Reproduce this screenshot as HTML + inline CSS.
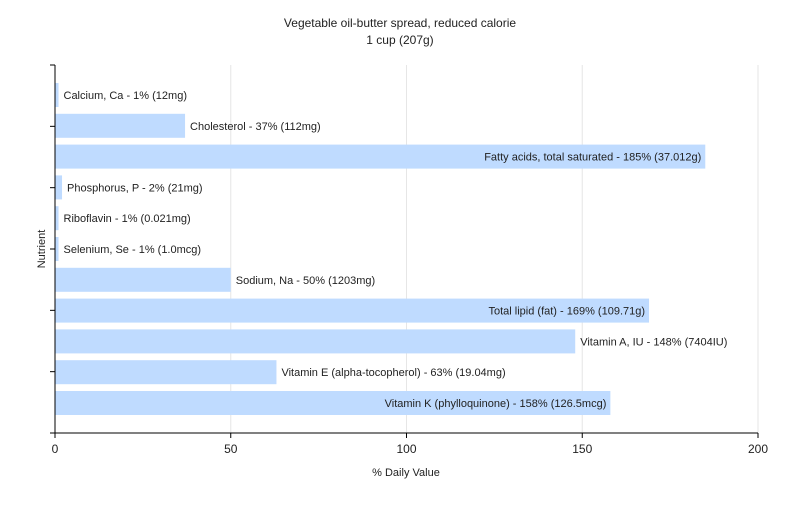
<!DOCTYPE html>
<html><head><meta charset="utf-8"><style>
body{margin:0;background:#fff;font-family:"Liberation Sans",sans-serif;}
svg text{font-family:"Liberation Sans",sans-serif;}
</style></head><body>
<svg id="chart" width="800" height="500" xmlns="http://www.w3.org/2000/svg">
<rect width="800" height="500" fill="#fff"/>
<text x="400" y="27" text-anchor="middle" font-size="12" fill="#222">Vegetable oil-butter spread, reduced calorie</text>
<text x="400" y="44" text-anchor="middle" font-size="12" fill="#222">1 cup (207g)</text>
<g id="grid"></g><g id="bars"></g><g id="axes"></g>
<text x="406" y="476" text-anchor="middle" font-size="11" fill="#222">% Daily Value</text>
<text transform="translate(45,249) rotate(-90)" text-anchor="middle" font-size="11" fill="#222">Nutrient</text>
</svg>
<script>
const categories=["Calcium, Ca","Cholesterol","Fatty acids, total saturated","Phosphorus, P","Riboflavin","Selenium, Se","Sodium, Na","Total lipid (fat)","Vitamin A, IU","Vitamin E (alpha-tocopherol)","Vitamin K (phylloquinone)"];
const values=[1,37,185,2,1,1,50,169,148,63,158];
const amounts=["12mg","112mg","37.012g","21mg","0.021mg","1.0mcg","1203mg","109.71g","7404IU","19.04mg","126.5mcg"];
const xTicks=[0,50,100,150,200];
const NS="http://www.w3.org/2000/svg";
const x0=55,x1=758,yTop=65,yBot=433;
const xs=v=>x0+v/200*(x1-x0);
const rowH=30.8;
const yc=i=>95+rowH*i;
function mk(t,a,p){const e=document.createElementNS(NS,t);for(const k in a)e.setAttribute(k,a[k]);p.appendChild(e);return e;}
const grid=document.getElementById('grid'),bars=document.getElementById('bars'),axes=document.getElementById('axes');
xTicks.forEach(t=>{
 if(t>0){const g=mk('line',{x1:xs(t),x2:xs(t),y1:yTop,y2:yBot,stroke:'#e6e6e6'},grid);
 
 }
 const tk=mk('line',{x1:xs(t),x2:xs(t),y1:yBot,y2:yBot+5,stroke:'#000'},axes);
 
 
 const l=mk('text',{x:xs(t),y:yBot+20,'text-anchor':'middle','font-size':12,fill:'#222'},axes);
 l.textContent=t;
 
 
});
for(let k=0;k<=6;k++){
 const y=yTop+(yBot-yTop)/6*k;
 const tk=mk('line',{x1:x0-5,x2:x0,y1:y,y2:y,stroke:'#000'},axes);
 
 
}
const ax=mk('line',{x1:x0,x2:x0,y1:yTop,y2:yBot,stroke:'#000'},axes);


const axx=mk('line',{x1:x0,x2:x1,y1:yBot,y2:yBot,stroke:'#000'},axes);


categories.forEach((c,i)=>{
 const w=xs(values[i])-x0,bh=24;
 const r=mk('rect',{x:x0,y:yc(i)-bh/2,width:w,height:bh,fill:'#bfdbff'},bars);
 
 
 const label=c+' - '+values[i]+'% ('+amounts[i]+')';
 const t=mk('text',{y:yc(i)+4,'font-size':11,fill:'#222'},bars);
 t.textContent=label;
 
 
 const lw=t.getComputedTextLength();
 if(x0+w+5+lw>x1){t.setAttribute('x',x0+w-4);t.setAttribute('text-anchor','end');}
 else t.setAttribute('x',x0+w+5);
});
</script>
</body></html>
